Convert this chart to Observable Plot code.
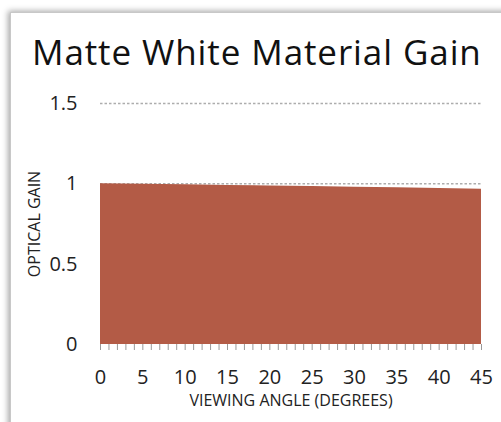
<!DOCTYPE html>
<html>
<head>
<meta charset="utf-8">
<script src="https://cdn.jsdelivr.net/npm/d3@7"></script>
<script src="https://cdn.jsdelivr.net/npm/@observablehq/plot@0.6"></script>
<style>
  html, body { margin: 0; padding: 0; background: #fff; width: 501px; height: 422px; overflow: hidden; }
  #card {
    position: absolute; left: 10px; top: 12px; width: 520px; height: 440px;
    background: #fff; border: 1px solid #c8c8c8;
    box-shadow: -2px -1px 6px rgba(0,0,0,0.35);
  }
  #title {
    position: absolute; left: 32px; top: 28px; margin: 0;
    font-family: "Open Sans", sans-serif; font-size: 35px; font-weight: 400;
    letter-spacing: 0.9px;
    color: #111; white-space: nowrap; line-height: 48px;
  }
  #chart { position: absolute; left: 0; top: 85px; }
</style>
</head>
<body>
<div id="card"></div>
<div id="title">Matte White Material Gain</div>
<div id="chart"></div>
<script>
const title = "Matte White Material Gain";
const angles = [0, 5, 10, 15, 20, 25, 30, 35, 40, 45];
const gains  = [1.0, 0.998, 0.995, 0.99, 0.987, 0.983, 0.979, 0.975, 0.971, 0.967];
const yTicks = [0, 0.5, 1, 1.5];
const xTicks = [0, 5, 10, 15, 20, 25, 30, 35, 40, 45];
const xLabel = "VIEWING ANGLE (DEGREES)";
const yLabel = "OPTICAL GAIN";

const data = angles.map((a, i) => ({angle: a, gain: gains[i]}));
const font = "'Open Sans', sans-serif";

const chart = Plot.plot({
  width: 501,
  height: 337,
  marginLeft: 100,
  marginRight: 20,
  marginTop: 18,
  marginBottom: 78,
  style: {fontFamily: font, background: "transparent", overflow: "visible"},
  x: {domain: [0, 45], label: null},
  y: {domain: [0, 1.5], label: null},
  marks: [
    Plot.gridY(yTicks.filter(d => d > 0), {stroke: "#999", strokeOpacity: 0.8, strokeDasharray: "2.5,2", strokeWidth: 1.5}),
    Plot.areaY(data, {x: "angle", y: "gain", fill: "#b35b46", curve: "linear"}),
    Plot.axisY(yTicks, {tickSize: 0, tickPadding: 23, fontSize: 20, color: "#222", tickFormat: d => String(d), label: null}),
    Plot.axisX(d3.range(0, 46, 1), {tickSize: 6, stroke: "#999", tickFormat: () => "", label: null}),
    Plot.axisX(xTicks, {tickSize: 0, tickPadding: 25, fontSize: 20, color: "#222", tickFormat: d => String(d), label: null}),
    Plot.text([yLabel], {frameAnchor: "left", textAnchor: "middle", dx: -66, rotate: -90, fontSize: 16, fill: "#222", fontFamily: font}),
    Plot.text([xLabel], {frameAnchor: "bottom", textAnchor: "middle", dy: 61, fontSize: 16, fill: "#222", fontFamily: font, letterSpacing: "-0.3px"})
  ]
});
document.getElementById("chart").appendChild(chart);
</script>
</body>
</html>
